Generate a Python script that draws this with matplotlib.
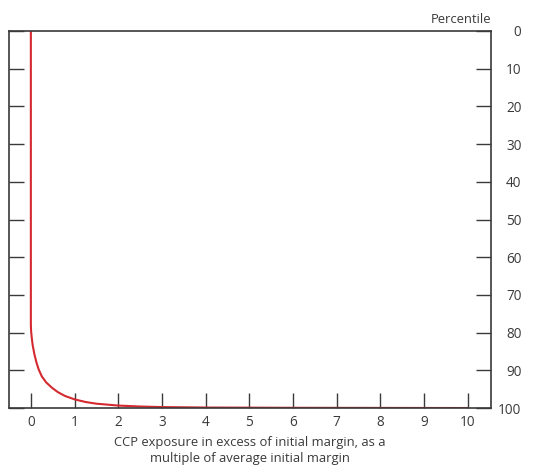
import matplotlib
matplotlib.use("Agg")
import matplotlib.pyplot as plt

# multiple of average initial margin vs percentile
exposure = [0.0, 0.0, 0.005, 0.02, 0.04, 0.08, 0.13, 0.18, 0.25, 0.35, 0.48, 0.62, 0.78, 1.0,
            1.25, 1.5, 2.0, 2.5, 3.0, 4.0, 6.0, 8.0, 10.0]
percentile = [0, 78, 79.5, 81.3, 83.2, 85.7, 88.0, 89.8, 91.6, 93.2, 94.6, 95.8, 96.8, 97.7,
              98.4, 98.85, 99.35, 99.6, 99.75, 99.87, 99.94, 99.97, 100]

x_ticks = list(range(0, 11))
y_ticks = list(range(0, 101, 10))

plt.rcParams['font.family'] = ['Open Sans', 'DejaVu Sans']
grey = '#3a3a3a'

fig = plt.figure(figsize=(5.33, 4.74), dpi=100)
ax = fig.add_axes([0.0169, 0.1392, 0.9043, 0.7954])

ax.plot(exposure, percentile, color='#d42a2f', lw=1.5, solid_capstyle='butt')

ax.set_xlim(-0.5, 10.53)
ax.set_ylim(100, 0)
ax.set_xticks(x_ticks)
ax.set_yticks(y_ticks)

for s in ax.spines.values():
    s.set_color(grey)
    s.set_linewidth(1.2)

ax.tick_params(axis='x', direction='in', length=10.5, width=1.0, color=grey,
               labelsize=9.8, labelcolor=grey, pad=5)
ax.tick_params(axis='y', direction='in', length=10.5, width=1.0, color=grey,
               left=True, right=True, labelleft=False, labelright=True,
               labelsize=9.8, labelcolor=grey, pad=22)
for lab in ax.get_yticklabels():
    lab.set_horizontalalignment('right')

ax.set_xlabel('CCP exposure in excess of initial margin, as a\nmultiple of average initial margin',
              fontsize=9.4, color=grey, labelpad=4, linespacing=1.3)
ax.text(1.0, 1.012, 'Percentile', transform=ax.transAxes, ha='right', va='bottom',
        fontsize=9.4, color=grey)

fig.savefig('out.png', dpi=100)
